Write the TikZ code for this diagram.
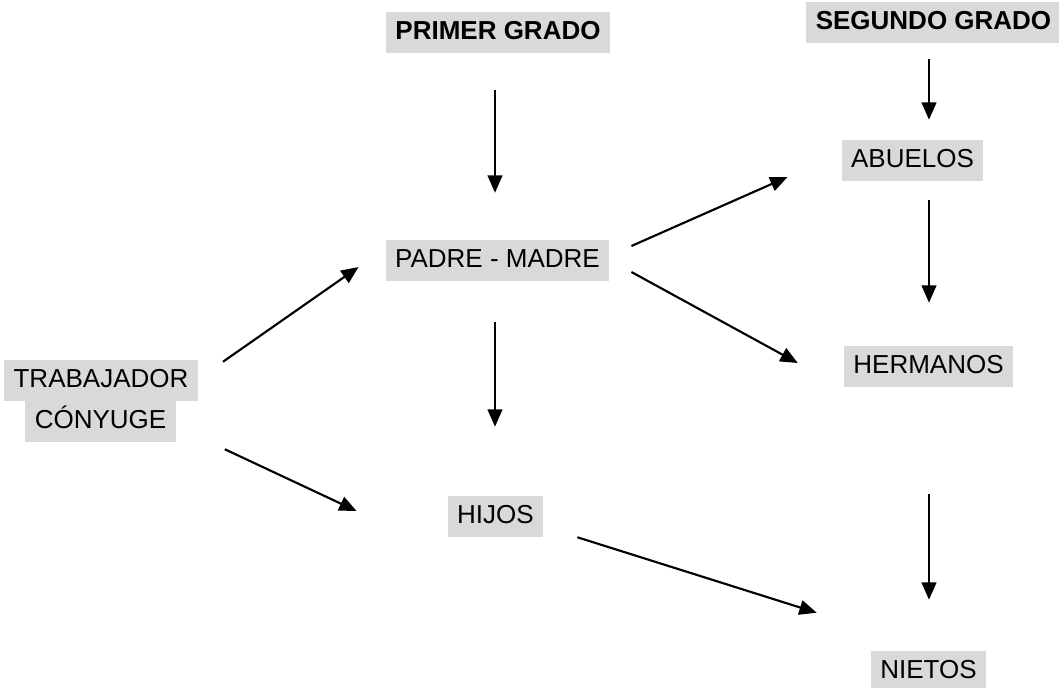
\documentclass[tikz,border=0pt]{standalone}
\usepackage{fontspec}
\setmainfont{Liberation Sans}
\usepackage{xcolor}
\usepackage{tikz}
\usetikzlibrary{arrows.meta,positioning}
\definecolor{boxgray}{HTML}{D9D9D9}

\begin{document}
\begin{tikzpicture}
[x=0.75pt,y=-0.75pt,
box/.style={rectangle,fill=boxgray,inner xsep=7pt,inner ysep=0pt,minimum height=30.75pt,text height=14pt,text depth=4pt,font=\fontsize{19.5}{23}\selectfont},
hdr/.style={box,font=\fontsize{19.5}{23}\selectfont\bfseries},
arr/.style={line width=1.6pt,-{Triangle[length=13pt,width=11pt]}}];
\useasboundingbox (0,0) rectangle (1059,688);

\node[hdr] (primer) at (498,32.5) {PRIMER GRADO};
\node[hdr] (segundo) at (933.5,22.5) {SEGUNDO GRADO};
\node[box] (padre) at (497.5,260.5) {PADRE - MADRE};
\node[box] (abuelos) at (912.5,160.5) {ABUELOS};
\node[box] (hermanos) at (928.5,366.5) {HERMANOS};
\node[box] (hijos) at (495.5,516.5) {HIJOS};
\node[box] (nietos) at (928.5,671.5) {NIETOS};
\node[box] (trab) at (101,380.5) {TRABAJADOR};
\node[box] (cony) at (100.5,421.5) {CÓNYUGE};

\draw[arr] ([shift={(-3,37)}]primer.south) -- ([shift={(-2.5,-47)}]padre.north);
\draw[arr] ([shift={(-4.5,16)}]segundo.south) -- ([shift={(16.5,-20)}]abuelos.north);
\draw[arr] ([shift={(16.5,19)}]abuelos.south) -- ([shift={(0.5,-43)}]hermanos.north);
\draw[arr] ([shift={(0.5,107)}]hermanos.south) -- ([shift={(0.5,-51)}]nietos.north);
\draw[arr] ([shift={(-2.5,41)}]padre.south) -- ([shift={(-0.5,-69)}]hijos.north);
\draw[arr] ([shift={(25,2)}]trab.north east) -- ([shift={(-27,6.5)}]padre.west);
\draw[arr] ([shift={(49,7)}]cony.south east) -- ([shift={(-91,-5.5)}]hijos.west);
\draw[arr] ([shift={(22,-14.5)}]padre.east) -- ([shift={(-54,16.5)}]abuelos.west);
\draw[arr] ([shift={(22,11.5)}]padre.east) -- ([shift={(-46,-3.5)}]hermanos.west);
\draw[arr] ([shift={(34,0)}]hijos.south east) -- ([shift={(-54,-38)}]nietos.north west);
\end{tikzpicture}
\end{document}
